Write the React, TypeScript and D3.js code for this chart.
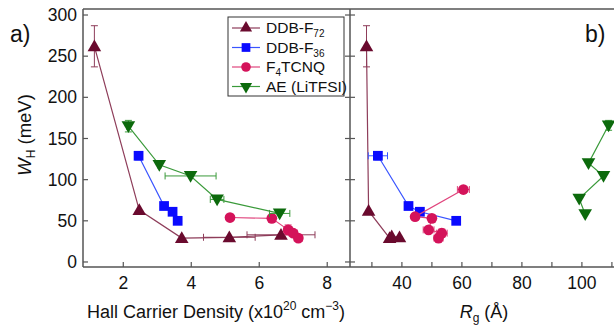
import React from 'react';
import * as d3 from 'd3';

// data: [x, y, xErr, yErr]
const f72Density = [[1.15, 262, 0, 25], [2.47, 63, 0, 0], [3.72, 29, 0, 0], [5.12, 30, 0.76, 0], [6.64, 33, 1.0, 0]];
const f36Density = [[2.45, 129, 0.08, 5], [3.2, 68, 0.08, 0], [3.45, 61, 0, 0], [3.6, 50, 0, 0]];
const f4Density = [[5.14, 54, 0, 0], [6.37, 53, 0, 0], [6.85, 39, 0.12, 6], [7.0, 35, 0.12, 0], [7.15, 29, 0.12, 0]];
const aeDensity = [[2.15, 165, 0.05, 7], [3.06, 118, 0.05, 0], [3.98, 104.5, 0.75, 0], [4.76, 76, 0.2, 0], [6.6, 59, 0.3, 0]];

const f72Rg = [[28.2, 262, 0, 25], [28.9, 62, 0, 0], [35.9, 29, 0, 0], [39.2, 30, 0, 0], [36.6, 31, 0, 0]];
const f36Rg = [[32.0, 129, 3.2, 5], [42.2, 68, 0, 0], [46.0, 61, 0, 0], [58.1, 50, 0, 0]];
const f4Rg = [[60.5, 88, 2, 0], [44.4, 55, 0, 0], [50.0, 53, 0, 0], [48.9, 39, 1.8, 0], [53.3, 35, 1.8, 5], [52.2, 29, 1.5, 5]];
const aeRg = [[108.9, 166, 0, 6], [102.2, 120, 0, 0], [107.2, 104.5, 0, 0], [99.1, 77, 0, 0], [101.1, 58, 0, 0]];

const yTicks = [0, 50, 100, 150, 200, 250, 300];
const densityTicks = [2, 4, 6, 8];
const rgTicks = [30, 40, 50, 60, 70, 80, 90, 100, 110];
const rgLabels = [40, 60, 80, 100];

const series = [
  { name: 'F72', left: f72Density, right: f72Rg, marker: '#6a0a2e', line: '#8e3d5a', sym: d3.symbolTriangle, rot: 0, size: 80 },
  { name: 'F36', left: f36Density, right: f36Rg, marker: '#0a0aff', line: '#3a55ff', sym: d3.symbolSquare, rot: 0, size: 95 },
  { name: 'F4', left: f4Density, right: f4Rg, marker: '#d4135a', line: '#e0457d', sym: d3.symbolCircle, rot: 0, size: 90 },
  { name: 'AE', left: aeDensity, right: aeRg, marker: '#0c6a0c', line: '#3a9a3a', sym: d3.symbolTriangle, rot: 180, size: 80 },
];

const W = 614;
const H = 326;
const top = 9;
const bottom = 267;
const leftX0 = 83;
const midX = 350;
const axisColor = '#555';
const font = 'Liberation Sans, Arial, sans-serif';

const y = d3.scaleLinear().domain([-6.1, 307.3]).range([bottom, top]);
const xL = d3.scaleLinear().domain([0.815, 8.67]).range([leftX0, midX]);
const xR = d3.scaleLinear().domain([22.7, 120]).range([midX, midX + (120 - 22.7) * 3]);

function Series({ s, data, x }) {
  const line = d3.line().x((d) => x(d[0])).y((d) => y(d[1]));
  const sym = d3.symbol().type(s.sym).size(s.size)();
  const cap = 3.5;
  return (
    <g>
      <path d={line(data)} fill="none" stroke={s.line} strokeWidth={1.2} />
      {data.map((d, i) => {
        const cx = x(d[0]);
        const cy = y(d[1]);
        return (
          <g key={i} stroke={s.line} strokeWidth={1}>
            {d[2] > 0 && (
              <>
                <line x1={x(d[0] - d[2])} x2={x(d[0] + d[2])} y1={cy} y2={cy} />
                <line x1={x(d[0] - d[2])} x2={x(d[0] - d[2])} y1={cy - cap} y2={cy + cap} />
                <line x1={x(d[0] + d[2])} x2={x(d[0] + d[2])} y1={cy - cap} y2={cy + cap} />
              </>
            )}
            {d[3] > 0 && (
              <>
                <line x1={cx} x2={cx} y1={y(d[1] - d[3])} y2={y(d[1] + d[3])} />
                <line x1={cx - cap} x2={cx + cap} y1={y(d[1] - d[3])} y2={y(d[1] - d[3])} />
                <line x1={cx - cap} x2={cx + cap} y1={y(d[1] + d[3])} y2={y(d[1] + d[3])} />
              </>
            )}
          </g>
        );
      })}
      {data.map((d, i) => (
        <path
          key={'m' + i}
          d={sym}
          transform={`translate(${x(d[0])},${y(d[1]) + (s.sym === d3.symbolTriangle ? (s.rot ? -1 : 1) : 0)}) rotate(${s.rot})`}
          fill={s.marker}
        />
      ))}
    </g>
  );
}

const legendItems = [
  { s: series[0], label: <>DDB-F<tspan fontSize={10} dy={4}>72</tspan></> },
  { s: series[1], label: <>DDB-F<tspan fontSize={10} dy={4}>36</tspan></> },
  { s: series[2], label: <>F<tspan fontSize={10} dy={4}>4</tspan><tspan dy={-4}>TCNQ</tspan></> },
  { s: series[3], label: <>AE (LiTFSI)</> },
];

export default function App() {
  const tickLen = 5;
  return (
    <svg width={W} height={H} style={{ position: 'absolute', left: 0, top: 0, background: '#fff' }} fontFamily={font}>
      <defs>
        <clipPath id="clipL"><rect x={leftX0} y={top} width={midX - leftX0} height={bottom - top} /></clipPath>
        <clipPath id="clipR"><rect x={midX} y={top} width={W} height={bottom - top} /></clipPath>
      </defs>

      {/* frame */}
      <g stroke={axisColor} strokeWidth={1.5} fill="none">
        <line x1={leftX0} x2={W} y1={top} y2={top} />
        <line x1={leftX0} x2={W} y1={bottom} y2={bottom} />
        <line x1={leftX0} x2={leftX0} y1={top} y2={bottom} />
        <line x1={midX} x2={midX} y1={top} y2={bottom} />
      </g>

      {/* ticks */}
      <g stroke={axisColor} strokeWidth={1.2}>
        {yTicks.map((t) => (
          <g key={t}>
            <line x1={leftX0} x2={leftX0 + tickLen} y1={y(t)} y2={y(t)} />
            <line x1={midX - tickLen} x2={midX + tickLen} y1={y(t)} y2={y(t)} />
          </g>
        ))}
        {densityTicks.map((t) => (
          <line key={t} x1={xL(t)} x2={xL(t)} y1={bottom} y2={bottom - tickLen} />
        ))}
        {rgTicks.map((t) => (
          <line key={t} x1={xR(t)} x2={xR(t)} y1={bottom} y2={bottom - tickLen} />
        ))}
      </g>

      <g fontSize={17.5} fill="#111">
        {yTicks.map((t) => (
          <text key={t} x={leftX0 - 6} y={y(t)} dy="0.35em" textAnchor="end">{t}</text>
        ))}
        {densityTicks.map((t) => (
          <text key={t} x={xL(t)} y={bottom + 22} textAnchor="middle">{t}</text>
        ))}
        {rgLabels.map((t) => (
          <text key={t} x={xR(t)} y={bottom + 22} textAnchor="middle">{t}</text>
        ))}
      </g>

      {/* axis titles */}
      <text x={216} y={318} fontSize={18} textAnchor="middle" fill="#111">
        Hall Carrier Density (x10<tspan fontSize={12} dy={-8}>20</tspan><tspan dy={8}> cm</tspan><tspan fontSize={12} dy={-8}>−3</tspan><tspan dy={8}>)</tspan>
      </text>
      <text x={484} y={318} fontSize={18} textAnchor="middle" fill="#111">
        <tspan fontStyle="italic">R</tspan><tspan fontSize={12} dy={4}>g</tspan><tspan dy={-4}> (Å)</tspan>
      </text>
      <text transform="translate(31,135) rotate(-90)" fontSize={18.5} textAnchor="middle" fill="#111">
        <tspan fontStyle="italic">W</tspan><tspan fontSize={12} dy={4}>H</tspan><tspan dy={-4}> (meV)</tspan>
      </text>

      <text x={10} y={42} fontSize={23} fill="#111">a)</text>
      <text x={585} y={42} fontSize={23} fill="#111">b)</text>

      <g clipPath="url(#clipL)">
        {series.map((s) => <Series key={s.name} s={s} data={s.left} x={xL} />)}
      </g>
      <g clipPath="url(#clipR)">
        {series.map((s) => <Series key={s.name} s={s} data={s.right} x={xR} />)}
      </g>

      {/* legend */}
      <g transform="translate(228,17)">
        <rect width={116} height={79} fill="#fff" stroke="#333" strokeWidth={1} />
        {legendItems.map((it, i) => {
          const ly = 11 + i * 19.5;
          const sym = d3.symbol().type(it.s.sym).size(it.s.size * 0.8)();
          return (
            <g key={i}>
              <line x1={4} x2={32} y1={ly} y2={ly} stroke={it.s.line} strokeWidth={1.2} />
              <path d={sym} transform={`translate(18,${ly}) rotate(${it.s.rot})`} fill={it.s.marker} />
              <text x={38} y={ly} dy="0.35em" fontSize={15.5} fill="#111">{it.label}</text>
            </g>
          );
        })}
      </g>
    </svg>
  );
}
